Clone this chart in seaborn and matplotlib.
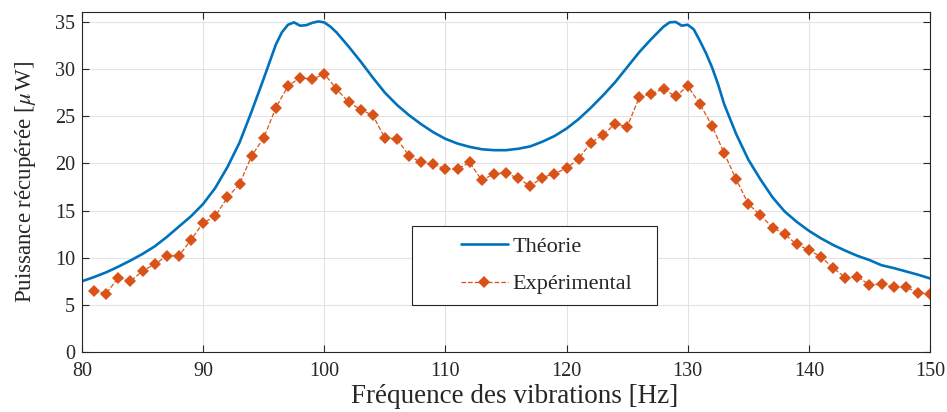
import numpy as np
import pandas as pd
import matplotlib
matplotlib.use("Agg")
import matplotlib.pyplot as plt
from matplotlib.patches import Rectangle
import seaborn as sns

# Theoretical curve
theo_freq = [80, 81, 82, 83, 84, 85, 86, 87, 88, 89, 90, 91, 92, 93, 94, 95,
             96, 96.5, 97, 97.5, 98, 98.5, 99, 99.5, 100, 100.5, 101, 102, 103,
             104, 105, 106, 107, 108, 109, 110, 111, 112, 113, 114, 115, 116,
             117, 118, 119, 120, 121, 122, 123, 124, 125, 126, 127, 128, 128.5,
             129, 129.5, 130, 130.5, 131, 131.5, 132, 132.5, 133, 134, 135, 136,
             137, 138, 139, 140, 141, 142, 143, 144, 145, 146, 147, 148, 149, 150]
theo_power = [7.5, 7.95, 8.45, 9.05, 9.7, 10.4, 11.2, 12.2, 13.3, 14.4, 15.7,
              17.4, 19.6, 22.2, 25.5, 29.0, 32.6, 33.9, 34.7, 34.95, 34.6, 34.65,
              34.9, 35.05, 34.95, 34.5, 33.9, 32.4, 30.8, 29.1, 27.5, 26.2, 25.1,
              24.15, 23.3, 22.6, 22.1, 21.75, 21.5, 21.4, 21.4, 21.55, 21.8,
              22.3, 22.9, 23.7, 24.7, 25.9, 27.2, 28.6, 30.2, 31.8, 33.2, 34.5,
              34.95, 35.0, 34.6, 34.7, 34.2, 33.0, 31.7, 30.2, 28.4, 26.3, 23.1,
              20.4, 18.3, 16.4, 14.9, 13.8, 12.85, 12.05, 11.35, 10.75, 10.2,
              9.75, 9.2, 8.9, 8.55, 8.2, 7.8]

# Measured points, one per Hz
exp_freq = list(range(81, 151))
exp_power = [6.5, 6.2, 7.9, 7.5, 8.6, 9.3, 10.2, 10.2, 11.9, 13.7,
             14.4, 16.4, 17.8, 20.8, 22.7, 25.9, 28.2, 29.1, 28.9, 29.5,
             27.9, 26.5, 25.7, 25.1, 22.7, 22.6, 20.8, 20.1, 19.9, 19.4,
             19.4, 20.1, 18.2, 18.9, 19.0, 18.4, 17.6, 18.5, 18.9, 19.5,
             20.5, 22.2, 23.0, 24.2, 23.9, 27.0, 27.4, 27.9, 27.1, 28.2,
             26.3, 24.0, 21.1, 18.3, 15.7, 14.5, 13.2, 12.5, 11.4, 10.8,
             10.1, 8.9, 7.9, 8.0, 7.1, 7.2, 6.9, 6.9, 6.3, 6.1]

x_ticks = list(range(80, 151, 10))
y_ticks = list(range(0, 36, 5))

sns.set_style("whitegrid")
plt.rcParams["font.family"] = ["Liberation Serif", "DejaVu Serif"]
plt.rcParams["mathtext.fontset"] = "stix"

blue = "#0072BD"
orange = "#D95319"
dark = "#262626"

fig = plt.figure(figsize=(9.47, 4.12), dpi=100)
ax = fig.add_axes([0.0866, 0.1456, 0.8955, 0.8241])

theo = pd.DataFrame({"f": theo_freq, "P": theo_power})
expe = pd.DataFrame({"f": exp_freq, "P": exp_power})

sns.lineplot(data=theo, x="f", y="P", ax=ax, color=blue, linewidth=1.9,
             label="Théorie", sort=False)
sns.lineplot(data=expe, x="f", y="P", ax=ax, color=orange, linewidth=0.9,
             linestyle="--", marker="D", markersize=6.5, markeredgewidth=0,
             label="Expérimental", sort=False)

ax.set_xlim(80, 150)
ax.set_ylim(0, 36)
ax.set_xticks(x_ticks)
ax.set_yticks(y_ticks)
ax.tick_params(axis="both", which="both", direction="in", length=5,
               labelsize=14.5, top=True, right=True, bottom=True, left=True,
               color=dark)
ax.tick_params(axis="x", pad=7)
ax.tick_params(axis="y", pad=5)
ax.grid(True, color="#e3e3e3", linewidth=0.8)
for s in ax.spines.values():
    s.set_color(dark)
    s.set_linewidth(0.8)

ax.set_xlabel("Fréquence des vibrations [Hz]", fontsize=19.5, labelpad=3)
ax.xaxis.set_label_coords(0.51, -0.095)
ax.set_ylabel(r"Puissance récupérée [$\mu\,$W]", fontsize=16.5, labelpad=12)

# legend frame drawn as a fixed box like the original figure
ax.add_patch(Rectangle((0.389, 0.138), 0.289, 0.233, transform=ax.transAxes,
                       facecolor="white", edgecolor=dark, linewidth=0.8,
                       zorder=4))
leg = ax.legend(loc="center left", bbox_to_anchor=(0.447, 0.255), fontsize=16,
                frameon=False, borderpad=0, borderaxespad=0,
                handlelength=2.1, handletextpad=0.2, labelspacing=0.75)
leg.set_zorder(5)

fig.savefig("out.png", dpi=100)
